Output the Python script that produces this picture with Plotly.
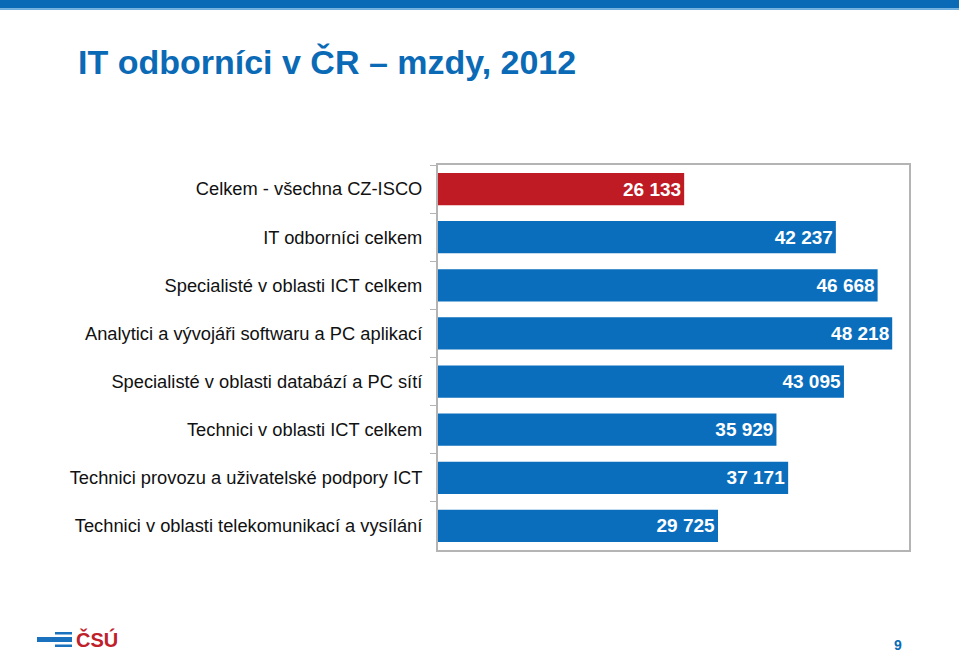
import plotly.graph_objects as go

categories = [
    "Celkem - všechna CZ-ISCO",
    "IT odborníci celkem",
    "Specialisté v oblasti ICT celkem",
    "Analytici a vývojáři softwaru a PC aplikací",
    "Specialisté v oblasti databází a PC sítí",
    "Technici v oblasti ICT celkem",
    "Technici provozu a uživatelské podpory ICT",
    "Technici v oblasti telekomunikací a vysílání",
]
values = [26133, 42237, 46668, 48218, 43095, 35929, 37171, 29725]
bar_colors = ["#BE1B24"] + ["#0A6EBD"] * 7
labels = [f"{v:,}".replace(",", " ") for v in values]

W, H = 959, 652
L, R, T, B = 438, 909, 165, 550

def px(x):
    return (x - L) / (R - L)

def py(y):
    return (B - y) / (B - T)

fig = go.Figure(go.Bar(
    x=values, y=categories, orientation="h",
    marker=dict(color=bar_colors, line=dict(width=0)),
    text=labels, textposition="inside", insidetextanchor="end",
    textfont=dict(color="white", size=19, family="Liberation Sans, Arial", weight="bold"),
    cliponaxis=False, hoverinfo="skip",
))

fig.update_layout(
    width=W, height=H, margin=dict(l=L, r=W - R, t=T, b=H - B),
    paper_bgcolor="white", plot_bgcolor="white",
    bargap=0.33, showlegend=False,
    font=dict(family="Liberation Sans, Arial", color="#111111"),
)
fig.update_xaxes(range=[0, 50000], showgrid=False, showticklabels=False, ticks="",
                 zeroline=False, showline=True, mirror=True, linecolor="#b4b4b4", linewidth=2)
fig.update_yaxes(autorange="reversed", showgrid=False, tickson="boundaries", ticks="outside",
                 ticklen=6, tickcolor="#b4b4b4", tickwidth=1,
                 showline=True, mirror=True, linecolor="#b4b4b4", linewidth=2,
                 tickfont=dict(size=18.3, color="#111111"), ticklabelstandoff=10)

shapes = []
# top bar
shapes.append(dict(type="rect", xref="paper", yref="paper", x0=px(0), x1=px(W), y0=py(0), y1=py(8.5),
                   fillcolor="#0A6AB6", line=dict(width=0), layer="above"))
shapes.append(dict(type="rect", xref="paper", yref="paper", x0=px(0), x1=px(W), y0=py(8.5), y1=py(10),
                   fillcolor="#6FB0E0", line=dict(width=0), layer="above"))
# logo lines
for (x0, x1, y0, y1) in [(55, 72, 632, 634.5), (37, 72, 637, 642), (55, 72, 644.5, 647)]:
    shapes.append(dict(type="rect", xref="paper", yref="paper", x0=px(x0), x1=px(x1), y0=py(y1), y1=py(y0),
                       fillcolor="#1A72BE", line=dict(width=0)))
fig.update_layout(shapes=shapes)

annotations = [
    dict(text="IT odborníci v ČR – mzdy, 2012", x=px(76), y=py(62), xanchor="left", yanchor="middle",
         font=dict(size=34, color="#0A6AB6", family="Liberation Sans, Arial", weight="bold")),
    dict(text="ČSÚ", x=px(74), y=py(639), xanchor="left", yanchor="middle",
         font=dict(size=20, color="#C0202A", family="Liberation Sans, Arial", weight="bold")),
    dict(text="9", x=px(898), y=py(645), xanchor="center", yanchor="middle",
         font=dict(size=14, color="#0A6AB6", family="Liberation Sans, Arial", weight="bold")),
]
for a in annotations:
    a.update(xref="paper", yref="paper", showarrow=False)
fig.update_layout(annotations=annotations)

fig.write_html("out.html")
